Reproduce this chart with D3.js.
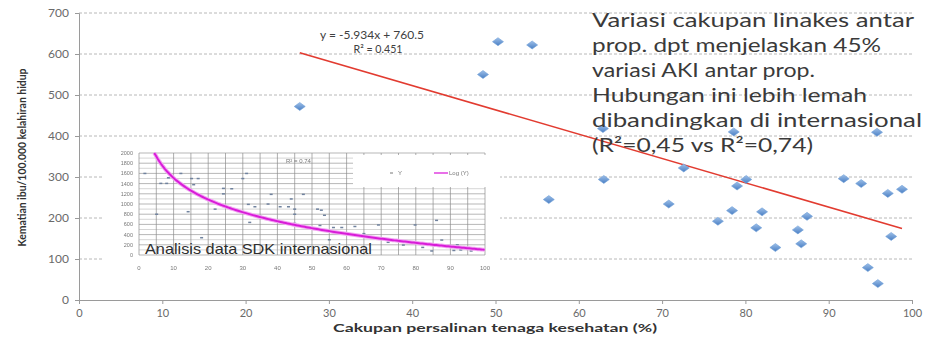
<!DOCTYPE html>
<html>
<head>
<meta charset="utf-8">
<script src="https://cdn.jsdelivr.net/npm/d3@7"></script>
<style>
  html, body { margin: 0; padding: 0; background: #fff; }
  svg { display: block; }
  text { font-family: Lato, "Noto Sans", sans-serif; }
</style>
</head>
<body>
<svg id="chart" width="928" height="343"></svg>
<script>
// Provincial data: skilled birth attendance coverage (%) vs maternal deaths per 100,000 live births
const provinceCoverage = [26.5, 48.5, 50.3, 54.4, 62.9, 63.0, 56.4, 70.8, 72.6, 78.6, 79.0, 80.1,
                          76.7, 78.4, 81.3, 82.0, 83.6, 86.3, 86.7, 87.4, 91.8, 93.9, 94.7, 95.9,
                          95.8, 97.1, 97.5, 98.8];
const provinceMMR = [472, 550, 630, 622, 418, 294, 245, 234, 322, 410, 278, 294,
                     192, 218, 176, 215, 128, 171, 137, 204, 296, 284, 79, 40,
                     409, 260, 155, 270];

// Linear fit printed on the chart
const trendSlope = -5.934;
const trendIntercept = 760.5;

const yTicks = [0, 100, 200, 300, 400, 500, 600, 700];
const xTicks = [0, 10, 20, 30, 40, 50, 60, 70, 80, 90, 100];

// International (SDK) comparison data for the small chart
const sdkCoverage = [1.7, 5.1, 6.3, 8.0, 8.5, 12.1, 15.2, 17.1, 14.2, 15.8, 18.1, 24.4, 24.4, 26.8,
                     31.1, 30.0, 31.6, 33.5, 32.0, 38.2, 37.3, 40.8, 43.2, 45.0, 45.0, 45.0, 47.5,
                     51.6, 52.7, 53.6, 52.3, 56.2, 58.6, 62.4, 69.2, 79.8, 86.0, 76.4, 84.6, 87.5,
                     91.0, 93.0, 96.0, 92.0, 22.0, 35.0, 44.0, 55.0, 65.0, 72.0, 82.0];
const sdkMMR = [1600, 800, 1405, 1405, 1515, 1600, 1500, 1500, 850, 1380, 340, 1307, 1200, 1300,
                1600, 1500, 994, 947, 640, 1190, 1000, 947, 947, 900, 800, 620, 1190,
                900, 880, 780, 580, 540, 540, 560, 590, 590, 680, 196, 80, 294,
                90, 100, 80, 200, 900, 760, 1100, 300, 420, 250, 150];
// Logarithmic fit of the SDK data: y = a + b ln(x)
const logFitA = 2920;
const logFitB = -612;

const insetYTicks = [0, 200, 400, 600, 800, 1000, 1200, 1400, 1600, 1800, 2000];
const insetXTicks = [0, 10, 20, 30, 40, 50, 60, 70, 80, 90, 100];

const noteLines = [
  "Variasi cakupan linakes antar",
  "prop. dpt menjelaskan 45%",
  "variasi AKI antar prop.",
  "Hubungan  ini lebih lemah",
  "dibandingkan di internasional",
  "(R\u00B2=0,45 vs R\u00B2=0,74)"
];
const noteWidths = [322, 289, 223, 275, 330, 221];

const svg = d3.select("#chart");

const x = d3.scaleLinear().domain([0, 100]).range([79, 912]);
const y = d3.scaleLinear().domain([0, 700]).range([300, 13]);

// Marker gradient
const defs = svg.append("defs");
const grad = defs.append("linearGradient").attr("id", "dia").attr("x1", 0).attr("y1", 0).attr("x2", 0).attr("y2", 1);
grad.append("stop").attr("offset", "0%").attr("stop-color", "#9dbfe8");
grad.append("stop").attr("offset", "100%").attr("stop-color", "#4a7fc4");
defs.append("filter").attr("id", "soft")
  .append("feGaussianBlur").attr("stdDeviation", 0.45);

// Horizontal dashed gridlines
svg.append("g").selectAll("line").data(yTicks.filter(d => d > 0)).join("line")
  .attr("x1", x(0)).attr("x2", x(100))
  .attr("y1", d => y(d)).attr("y2", d => y(d))
  .attr("stroke", "#b8b8b8").attr("stroke-width", 1)
  .attr("stroke-dasharray", "3,2");

// Axes
const yAxis = d3.axisLeft(y).tickValues(yTicks).tickSize(4).tickPadding(6);
const xAxis = d3.axisBottom(x).tickValues(xTicks).tickSize(4).tickPadding(5);

const gy = svg.append("g").attr("transform", `translate(${x(0)},0)`).call(yAxis);
const gx = svg.append("g").attr("transform", `translate(0,${y(0)})`).call(xAxis);
[gy, gx].forEach(g => {
  g.select(".domain").attr("stroke", "#9a9a9a");
  g.selectAll(".tick line").attr("stroke", "#9a9a9a");
  g.selectAll(".tick text").attr("fill", "#6a6a6a")
    .style("font-family", "Lato, sans-serif").style("font-size", "12px");
});
gx.selectAll(".tick text").style("font-size", "11px");

// Axis titles
svg.append("text")
  .attr("transform", `translate(26,${(y(0) + y(700)) / 2 + 1}) rotate(-90)`)
  .attr("text-anchor", "middle")
  .attr("fill", "#333")
  .style("font-size", "12px").style("font-weight", "bold")
  .attr("textLength", 178).attr("lengthAdjust", "spacingAndGlyphs")
  .text("Kematian ibu/100.000 kelahiran hidup");

svg.append("text")
  .attr("x", 495).attr("y", 332)
  .attr("text-anchor", "middle")
  .attr("fill", "#333")
  .style("font-size", "12px").style("font-weight", "bold")
  .attr("textLength", 324).attr("lengthAdjust", "spacingAndGlyphs")
  .text("Cakupan persalinan tenaga kesehatan (%)");

// Trend line across the observed coverage range
const xMin = d3.min(provinceCoverage), xMax = d3.max(provinceCoverage);
svg.append("line")
  .attr("x1", x(xMin)).attr("y1", y(trendSlope * xMin + trendIntercept))
  .attr("x2", x(xMax)).attr("y2", y(trendSlope * xMax + trendIntercept))
  .attr("stroke", "#e23b30").attr("stroke-width", 1.6);

// Province markers
const points = provinceCoverage.map((c, i) => [c, provinceMMR[i]]);
svg.append("g").selectAll("path").data(points).join("path")
  .attr("d", d => {
    const cx = x(d[0]), cy = y(d[1]);
    return `M${cx - 5.5},${cy}L${cx},${cy - 4}L${cx + 5.5},${cy}L${cx},${cy + 4}Z`;
  })
  .attr("fill", "url(#dia)")
  .attr("stroke", "#6f9fd8").attr("stroke-width", 0.6);

// Equation label
svg.append("text").attr("x", 372).attr("y", 39).attr("text-anchor", "middle")
  .attr("fill", "#404040").style("font-size", "11px")
  .attr("textLength", 104).attr("lengthAdjust", "spacingAndGlyphs")
  .text(`y = ${trendSlope}x + ${trendIntercept}`);
svg.append("text").attr("x", 378).attr("y", 53).attr("text-anchor", "middle")
  .attr("fill", "#404040").style("font-size", "11px")
  .attr("textLength", 49).attr("lengthAdjust", "spacingAndGlyphs")
  .text("R\u00B2 = 0.451");

// Explanatory note
const note = svg.append("g");
noteLines.forEach((line, i) => {
  note.append("text")
    .attr("x", 592).attr("y", 27 + i * 25)
    .attr("fill", "#3a3a3a")
    .style("font-size", "19.5px")
    .attr("textLength", noteWidths[i]).attr("lengthAdjust", "spacingAndGlyphs")
    .text(line);
});

// ---------- Inset: international comparison ----------
const inset = svg.append("g");
inset.append("rect").attr("x", 104).attr("y", 146).attr("width", 396).attr("height", 130)
  .attr("fill", "#fff");

const ix = d3.scaleLinear().domain([0, 100]).range([139, 485]);
const iy = d3.scaleLinear().domain([0, 2000]).range([255, 153]);

const insetBody = inset.append("g").attr("filter", "url(#soft)");

// Fine gridlines
insetBody.append("g").selectAll("line").data(d3.range(0, 2001, 100)).join("line")
  .attr("x1", ix(0)).attr("x2", ix(100))
  .attr("y1", d => iy(d)).attr("y2", d => iy(d))
  .attr("stroke", d => d % 200 === 0 ? "#9a9a9a" : "#c4c4c4").attr("stroke-width", 0.7);
insetBody.append("g").selectAll("line").data(d3.range(0, 101, 5)).join("line")
  .attr("x1", d => ix(d)).attr("x2", d => ix(d))
  .attr("y1", iy(0)).attr("y2", iy(2000))
  .attr("stroke", "#8c8c8c").attr("stroke-width", 0.7);

// Legend box
insetBody.append("rect").attr("x", 353).attr("y", iy(2000) + 2).attr("width", 134).attr("height", 32)
  .attr("fill", "#fff");
insetBody.append("line").attr("x1", 390).attr("x2", 393).attr("y1", 173).attr("y2", 173)
  .attr("stroke", "#777").attr("stroke-width", 1);
insetBody.append("text").attr("x", 398).attr("y", 175).attr("fill", "#777")
  .style("font-size", "6px").style("font-family", "Liberation Sans, Arial, sans-serif").text("Y");
insetBody.append("line").attr("x1", 434).attr("x2", 448).attr("y1", 173).attr("y2", 173)
  .attr("stroke", "#e040e0").attr("stroke-width", 1.5);
insetBody.append("text").attr("x", 449).attr("y", 175).attr("fill", "#777")
  .style("font-size", "6px").style("font-family", "Liberation Sans, Arial, sans-serif").text("Log (Y)");
insetBody.append("text").attr("x", 286).attr("y", 163).attr("fill", "#777")
  .style("font-size", "6px").style("font-family", "Liberation Sans, Arial, sans-serif").text("R\u00B2 = 0.74");

// Tick labels
insetBody.append("g").selectAll("text").data(insetYTicks).join("text")
  .attr("x", 133).attr("y", d => iy(d) + 2)
  .attr("text-anchor", "end").attr("fill", "#777")
  .style("font-size", "5.5px").style("font-family", "Liberation Sans, Arial, sans-serif")
  .text(d => d);
insetBody.append("g").selectAll("text").data(insetXTicks).join("text")
  .attr("x", d => ix(d)).attr("y", 270)
  .attr("text-anchor", "middle").attr("fill", "#777")
  .style("font-size", "6px").style("font-family", "Liberation Sans, Arial, sans-serif")
  .text(d => d);

// Country markers
insetBody.append("g").selectAll("rect").data(sdkCoverage.map((c, i) => [c, sdkMMR[i]])).join("rect")
  .attr("x", d => ix(d[0]) - 1.5).attr("y", d => iy(d[1]) - 0.7)
  .attr("width", 3).attr("height", 1.5)
  .attr("fill", "#6f829e");

// Logarithmic trend curve
const logX = d3.range(4.4, 100.01, 0.5);
const logLine = d3.line()
  .x(d => ix(d))
  .y(d => iy(Math.min(2000, logFitA + logFitB * Math.log(d))));
insetBody.append("path").attr("d", logLine(logX))
  .attr("fill", "none").attr("stroke", "#f3a6f3").attr("stroke-width", 4);
insetBody.append("path").attr("d", logLine(logX))
  .attr("fill", "none").attr("stroke", "#d81fd8").attr("stroke-width", 2);

// Inset caption
inset.append("text")
  .attr("x", 145).attr("y", 254)
  .attr("fill", "#2e2e2e")
  .style("font-size", "15px").style("font-family", "Liberation Sans, Arial, sans-serif")
  .attr("textLength", 227).attr("lengthAdjust", "spacingAndGlyphs")
  .text("Analisis data SDK internasional");
</script>
</body>
</html>
